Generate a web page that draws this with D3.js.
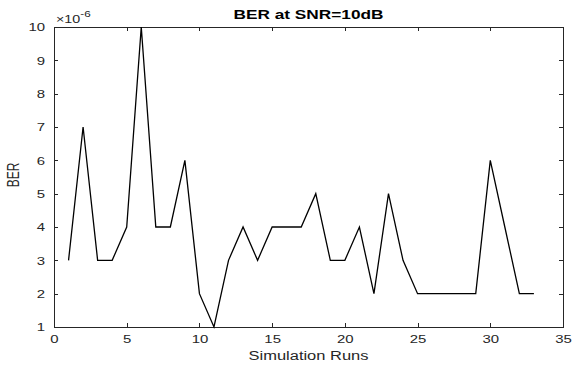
<!DOCTYPE html>
<html lang="en">
<head>
  <meta charset="UTF-8">
  <title>BER at SNR=10dB</title>
  <script src="https://d3js.org/d3.v7.min.js"></script>
  <style>
    body { margin: 0; padding: 0; background: #fff; }
    text { font-family: "Liberation Sans", Arial, sans-serif; fill: #262626; }
    .domain, .tick line { stroke: #262626; shape-rendering: crispEdges; }
  </style>
</head>
<body>
  <div id="chart"></div>
  <script>
    // simulation run index and BER (x 1e-6)
    const runs = [1, 2, 3, 4, 5, 6, 7, 8, 9, 10, 11, 12, 13, 14, 15, 16, 17,
                  18, 19, 20, 21, 22, 23, 24, 25, 26, 27, 28, 29, 30, 31, 32, 33];
    const ber = [3, 7, 3, 3, 4, 10, 4, 4, 6, 2, 1, 3, 4, 3, 4, 4, 4,
                 5, 3, 3, 4, 2, 5, 3, 2, 2, 2, 2, 2, 6, 4, 2, 2];
    const xTicks = [0, 5, 10, 15, 20, 25, 30, 35];
    const yTicks = [1, 2, 3, 4, 5, 6, 7, 8, 9, 10];

    const W = 572, H = 366;
    const margin = {top: 27, right: 9, bottom: 39, left: 54};
    const width = W - margin.left - margin.right,
          height = H - margin.top - margin.bottom;
    const sx = 1.3; // the picture is a bit wide

    const svg = d3.select("#chart").append("svg")
      .attr("width", W)
      .attr("height", H);

    const g = svg.append("g")
      .attr("transform", `translate(${margin.left},${margin.top})`);

    const x = d3.scaleLinear().domain([0, 35]).range([0, width]);
    const y = d3.scaleLinear().domain([1, 10]).range([height, 0]);

    // axes, ticks inside on all four sides
    g.append("g")
      .attr("transform", `translate(0,${height})`)
      .call(d3.axisBottom(x).tickValues(xTicks).tickSizeInner(-4).tickSizeOuter(0).tickPadding(8));
    g.append("g")
      .call(d3.axisLeft(y).tickValues(yTicks).tickSizeInner(-4).tickSizeOuter(0).tickPadding(9 / sx));
    g.append("g")
      .call(d3.axisTop(x).tickValues(xTicks).tickSizeInner(-4).tickSizeOuter(0).tickFormat(""));
    g.append("g")
      .attr("transform", `translate(${width},0)`)
      .call(d3.axisRight(y).tickValues(yTicks).tickSizeInner(-4).tickSizeOuter(0).tickFormat(""));

    g.selectAll(".tick text")
      .style("font-size", "11.5px")
      .style("font-family", "Liberation Sans, Arial, sans-serif")
      .attr("fill", "#262626")
      .attr("transform", `scale(${sx},1)`);

    // data line
    const line = d3.line()
      .x((d, i) => x(runs[i]))
      .y(d => y(d));

    g.append("path")
      .datum(ber)
      .attr("fill", "none")
      .attr("stroke", "#000")
      .attr("stroke-width", 1.3)
      .attr("stroke-linejoin", "miter")
      .attr("d", line);

    // exponent label
    const expo = svg.append("text")
      .attr("transform", `translate(${margin.left + 2},23) scale(${sx},1)`)
      .style("font-size", "11px");
    expo.append("tspan").text("\u00d710");
    expo.append("tspan").attr("dy", -6).style("font-size", "9px").text("-6");

    // title
    svg.append("text")
      .attr("x", margin.left + width / 2)
      .attr("y", 19)
      .attr("text-anchor", "middle")
      .attr("textLength", 150)
      .attr("lengthAdjust", "spacingAndGlyphs")
      .style("font-size", "12.5px")
      .style("font-weight", "bold")
      .style("fill", "#000")
      .text("BER at SNR=10dB");

    // axis labels
    svg.append("text")
      .attr("x", margin.left + width / 2)
      .attr("y", 360)
      .attr("text-anchor", "middle")
      .attr("textLength", 120)
      .attr("lengthAdjust", "spacingAndGlyphs")
      .style("font-size", "12.5px")
      .text("Simulation Runs");

    svg.append("text")
      .attr("transform", `translate(19,${margin.top + height / 2 - 2}) scale(${sx},1) rotate(-90)`)
      .attr("text-anchor", "middle")
      .style("font-size", "12px")
      .text("BER");
  </script>
</body>
</html>
